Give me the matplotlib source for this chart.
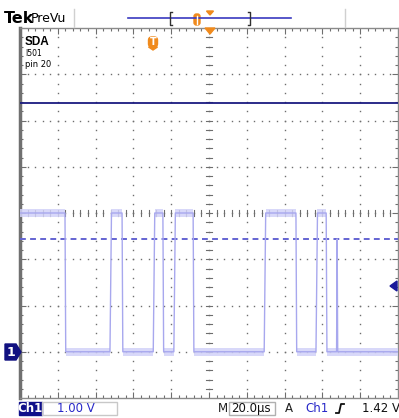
import numpy as np
import matplotlib
matplotlib.use("Agg")
import matplotlib.pyplot as plt
from matplotlib.patches import FancyBboxPatch, Polygon, Rectangle
from matplotlib.lines import Line2D

# Channel 1 (SDA) capture: times in µs relative to the trigger point, levels in volts
edge_times = [-46.2, -22.4, -16.0, 0.5, 5.6, 11.4, 21.6, 59.2, 76.0, 86.6, 92.0]
high_v = 3.0
low_v = 0.0
glitch_time = 97.8
glitch_peak = 2.44
trigger_level = 1.42
cursor_solid_v = 5.38
cursor_dashed_v = 2.44
trigger_pos = 0.0

# Readouts
ch_label = "Ch1"
scale_text = "1.00 V"
time_text = "20.0µs"
trig_text = "1.42 V"
label_lines = ["SDA", "I501", "pin 20"]

# Screen geometry (µs / volts)
t_min, t_max = -70.0, 130.0
v_min, v_max = -1.0, 7.0
t_div, v_div = 20.0, 1.0

W, H = 399, 418
fig = plt.figure(figsize=(W / 100, H / 100), dpi=100)
fig.patch.set_facecolor("white")


def fx(x):
    return x / W


def fy(y):
    return 1 - y / H


ax = fig.add_axes([fx(20), 20 / H, 378 / W, 370 / H])
ax.set_xlim(t_min, t_max)
ax.set_ylim(v_min, v_max)
ax.set_facecolor("white")

grid_c = "#6e6e6e"
# dotted graticule: dots every minor step along the major lines
maj_t = np.arange(t_min + t_div, t_max, t_div)
maj_v = np.arange(v_min + v_div, v_max, v_div)
min_t = np.arange(t_min + t_div / 5, t_max, t_div / 5)
min_v = np.arange(v_min + v_div / 5, v_max, v_div / 5)
for t in maj_t:
    ax.plot(np.full_like(min_v, t), min_v, ls="none", marker="s", ms=1.0,
            mec="none", mfc=grid_c, zorder=1)
for v in maj_v:
    ax.plot(min_t, np.full_like(min_t, v), ls="none", marker="s", ms=1.0,
            mec="none", mfc=grid_c, zorder=1)

# centre cross with tick marks
t_c = (t_min + t_max) / 2
v_c = (v_min + v_max) / 2
for v in min_v:
    ax.plot([t_c - 1.4, t_c + 1.4], [v, v], color=grid_c, lw=0.8, zorder=1)
for t in min_t:
    ax.plot([t, t], [v_c - 0.06, v_c + 0.06], color=grid_c, lw=0.8, zorder=1)

# frame ticks
ax.set_xticks(maj_t)
ax.set_yticks(maj_v)
ax.set_xticks(min_t, minor=True)
ax.set_yticks(min_v, minor=True)
ax.tick_params(which="both", direction="in", top=True, right=True,
               labelbottom=False, labelleft=False, color=grid_c, width=0.8)
ax.tick_params(which="major", length=4)
ax.tick_params(which="minor", length=2.5)
for s in ["top", "bottom", "right"]:
    ax.spines[s].set_color("#8a8a8a")
    ax.spines[s].set_linewidth(1.0)
ax.spines["left"].set_color("#707070")
ax.spines["left"].set_linewidth(2.5)

# cursors
ax.axhline(cursor_solid_v, color="#1a1a80", lw=1.3, zorder=3)
ax.axhline(cursor_dashed_v, color="#6464d2", lw=1.4, ls=(0, (3, 2.2)), zorder=3)

# build the step trace from the edge list
trace_c = "#a8a8ee"
band_c = "#d2d2f8"
rise_dt, fall_dt = 0.8, 0.4
xs, ys = [t_min], [high_v]
level = high_v
seg_start = t_min
segments = []
for t in edge_times:
    segments.append((seg_start, t, level))
    new = low_v if level == high_v else high_v
    dt = fall_dt if level == high_v else rise_dt
    xs += [t, t + dt]
    ys += [level, new]
    level = new
    seg_start = t + dt
segments.append((seg_start, t_max, level))
xs += [glitch_time - 0.3, glitch_time, glitch_time + 0.3, t_max]
ys += [low_v, glitch_peak, low_v, low_v]

for a, b, lv in segments:
    ax.fill_between([a, b], lv - 0.09, lv + 0.09, color=band_c, alpha=0.85,
                    lw=0, zorder=4)
ax.plot(xs, ys, color=trace_c, lw=1.0, zorder=5)

# trigger level arrow on the right edge
ax.add_patch(Polygon([[fx(390), fy(286)], [fx(397), fy(281)], [fx(397), fy(291)]],
                     closed=True, transform=fig.transFigure, color="#1a1a9a",
                     zorder=10, clip_on=False))

# channel ground marker "1"
fig.patches.append(Polygon([[fx(5), fy(344)], [fx(16), fy(344)], [fx(21), fy(352)],
                            [fx(16), fy(360)], [fx(5), fy(360)]], closed=True,
                           transform=fig.transFigure, facecolor="#101080",
                           edgecolor="#101080"))
fig.text(fx(11), fy(352.5), "1", color="white", fontsize=9, fontweight="bold",
         ha="center", va="center", family="DejaVu Sans")

# channel label block
fig.text(fx(25), fy(42), label_lines[0], fontsize=8.5, fontweight="bold",
         va="center", family="Liberation Sans")
fig.text(fx(25), fy(54), label_lines[1], fontsize=5.5, va="center",
         family="Liberation Sans Narrow")
fig.text(fx(25), fy(64.5), label_lines[2], fontsize=6, va="center",
         family="Liberation Sans Narrow")

orange = "#f08a1c"
# trigger position badge
fig.patches.append(FancyBboxPatch((fx(148.5), fy(47)), fx(9), 10 / H,
                                  boxstyle="round,pad=0,rounding_size=0.008",
                                  transform=fig.transFigure, facecolor=orange,
                                  edgecolor=orange))
fig.patches.append(Polygon([[fx(148.5), fy(47)], [fx(157.5), fy(47)], [fx(153), fy(50)]],
                           closed=True, transform=fig.transFigure, color=orange))
fig.text(fx(153), fy(42), "T", color="white", fontsize=7, fontweight="bold",
         ha="center", va="center", family="DejaVu Sans")
# expansion point marker
fig.patches.append(Polygon([[fx(205), fy(28)], [fx(215), fy(28)], [fx(210), fy(34)]],
                           closed=True, transform=fig.transFigure, color=orange))

# header
fig.text(fx(4), fy(18.5), "Tek", fontsize=11.5, fontweight="bold", va="center",
         family="Liberation Sans Narrow")
fig.text(fx(31), fy(18), "PreVu", fontsize=9, va="center", family="DejaVu Sans")
for xx in (74, 345):
    fig.lines.append(Line2D([fx(xx), fx(xx)], [fy(9), fy(27)], color="#d0d0d0",
                            lw=1, transform=fig.transFigure))
fig.lines.append(Line2D([fx(128), fx(291)], [fy(18), fy(18)], color="#3a3ac0",
                        lw=1.2, transform=fig.transFigure))
for xx, d in ((170, 1), (250, -1)):
    fig.lines.append(Line2D([fx(xx + 2 * d), fx(xx), fx(xx), fx(xx + 2 * d)],
                            [fy(12), fy(12), fy(25), fy(25)], color="#303030",
                            lw=1, transform=fig.transFigure))
fig.patches.append(FancyBboxPatch((fx(194), fy(25)), fx(6), 11 / H,
                                  boxstyle="round,pad=0,rounding_size=0.006",
                                  transform=fig.transFigure, facecolor=orange,
                                  edgecolor=orange))
fig.lines.append(Line2D([fx(197), fx(197)], [fy(16), fy(24)], color="white",
                        lw=1, transform=fig.transFigure))
fig.patches.append(Polygon([[fx(206.5), fy(11)], [fx(213.5), fy(11)], [fx(210), fy(15)]],
                           closed=True, transform=fig.transFigure, color=orange))

# footer readouts
navy = "#10108a"
blue = "#2828c8"
fig.patches.append(Rectangle((fx(19), fy(415)), fx(23), 13 / H,
                             transform=fig.transFigure, facecolor=navy,
                             edgecolor=navy))
fig.text(fx(30.5), fy(408.5), ch_label, color="white", fontsize=8.5,
         fontweight="bold", ha="center", va="center", family="DejaVu Sans")
fig.patches.append(Rectangle((fx(42), fy(415)), fx(75), 13 / H,
                             transform=fig.transFigure, facecolor="none",
                             edgecolor="#c8c8c8", lw=1))
fig.text(fx(57), fy(408.5), scale_text, color=blue, fontsize=8.5,
         va="center", family="DejaVu Sans")
fig.text(fx(218), fy(408.5), "M", color="#202020", fontsize=8.5,
         va="center", family="DejaVu Sans")
fig.patches.append(Rectangle((fx(229), fy(415)), fx(46), 13 / H,
                             transform=fig.transFigure, facecolor="none",
                             edgecolor="#b0b0b0", lw=1))
fig.text(fx(231), fy(408.5), time_text, color="#101010", fontsize=8.5,
         va="center", family="DejaVu Sans")
fig.text(fx(285), fy(408.5), "A", color="#202020", fontsize=8.5,
         va="center", family="DejaVu Sans")
fig.text(fx(305), fy(408.5), ch_label, color=blue, fontsize=8.5,
         va="center", family="DejaVu Sans")
fig.lines.append(Line2D([fx(336), fx(339), fx(341), fx(344)],
                        [fy(413), fy(413), fy(404), fy(404)], color="#101010",
                        lw=1.3, transform=fig.transFigure))
fig.text(fx(362), fy(408.5), trig_text, color="#101010", fontsize=8.5,
         va="center", family="DejaVu Sans")

fig.savefig("out.png", dpi=100, facecolor="white")
